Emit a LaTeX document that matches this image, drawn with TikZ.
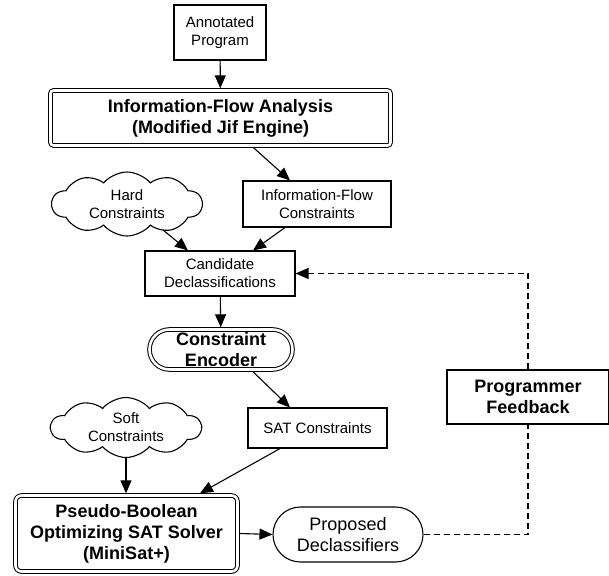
\documentclass[tikz,border=0pt]{standalone}
\usepackage{fontspec}
\setmainfont{Liberation Sans}
\usetikzlibrary{shapes.symbols,shapes.misc,arrows.meta}
\begin{document}
\begin{tikzpicture}[x=1pt,y=-1pt,
  every node/.style={font=\fontsize{15}{18}\selectfont, align=center, inner sep=0pt},
  box/.style={draw, fill=white, line width=1.1pt},
  dbl/.style={draw, fill=white, double, double distance=2.6pt, line width=1pt, outer sep=2.2pt},
  cloudy/.style={draw, fill=white, cloud, cloud puffs=10, cloud puff arc=100, cloud ignores aspect, line width=1.1pt},
  bigtext/.style={font=\bfseries\fontsize{18}{21}\selectfont},
  arr/.style={-{Triangle[length=13pt,width=11pt]}, line width=1.1pt},
  fb/.style={dash pattern=on 6pt off 4pt, line width=1.1pt}
]
\useasboundingbox (0,0) rectangle (609,575);

\node[box, minimum width=92pt, minimum height=55pt] (ap) at (220,32.5) {Annotated\\Program};
\node[dbl, rounded corners=3pt, bigtext, minimum width=340pt, minimum height=55pt] (ifa) at (220.5,118) {Information-Flow Analysis\\(Modified Jif Engine)};
\node[box, minimum width=148pt, minimum height=46pt] (ifc) at (317,204) {Information-Flow\\Constraints};
\node[cloudy, minimum width=150pt, minimum height=64pt] (hard) at (127,204) {Hard\\Constraints};
\node[box, minimum width=150pt, minimum height=45pt] (cd) at (220,273.5) {Candidate\\Declassifications};
\node[dbl, rounded rectangle, bigtext, minimum width=143pt, minimum height=40pt] (ce) at (221,349.5) {Constraint\\Encoder};
\node[box, minimum width=139pt, minimum height=40pt] (sat) at (317.5,428) {SAT Constraints};
\node[cloudy, minimum width=150pt, minimum height=60pt] (soft) at (126,427.5) {Soft\\Constraints};
\node[dbl, rounded corners=6pt, bigtext, minimum width=222pt, minimum height=76pt] (pb) at (126.5,533.5) {Pseudo-Boolean\\Optimizing SAT Solver\\(MiniSat+)};
\node[box, rounded rectangle, font=\fontsize{18}{21.5}\selectfont, minimum width=150pt, minimum height=55pt] (pd) at (348,534.5) {Proposed\\Declassifiers};
\node[box, bigtext, minimum width=162pt, minimum height=54pt] (pf) at (528,397) {Programmer\\Feedback};

\coordinate (c1) at (pf.south |- pd.east);
\coordinate (c2) at (pf.north |- cd.east);

\draw[arr] (ap) -- (ifa);
\draw[arr] ([xshift=33pt]ifa.south) -- ([xshift=-27pt]ifc.north);
\draw[arr] ([xshift=36pt,yshift=-26pt]hard.center) -- ([xshift=-32pt]cd.north);
\draw[arr] ([xshift=-32pt]ifc.south) -- ([xshift=33pt]cd.north);
\draw[arr] (cd) -- (ce);
\draw[arr] ([xshift=32pt]ce.south) -- ([xshift=-27.5pt]sat.north);
\draw[arr] (soft) -- (pb.north -| soft);
\draw[arr] ([xshift=-37.5pt]sat.south) -- ([xshift=73.5pt]pb.north);
\draw[arr] (pb.east) -- (pd.west);

\draw[fb] (pd.east) -- (c1) -- (pf.south);
\draw[fb, arr] (pf.north) -- (c2) -- (cd.east);
\end{tikzpicture}
\end{document}
